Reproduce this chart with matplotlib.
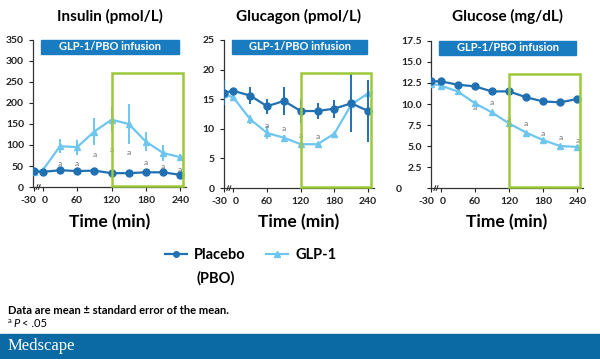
import numpy as np
import matplotlib.pyplot as plt
from matplotlib.patches import Rectangle
from matplotlib.lines import Line2D
from matplotlib.transforms import ScaledTranslation

plt.rcParams['font.family'] = ['Lato', 'DejaVu Sans']

# sampling times (min); -30 sits before a broken axis
times = np.array([-30, 0, 30, 60, 90, 120, 150, 180, 210, 240])
tick_times = [-30, 0, 60, 120, 180, 240]

# insulin (pmol/L)
ins_pbo = [37, 36, 40, 38, 39, 33, 33, 35, 35, 29]
ins_pbo_err = [3, 2, 3, 3, 3, 2, 2, 2, 3, 2]
ins_glp = [36, 40, 97, 95, 132, 160, 150, 108, 81, 71]
ins_glp_err = [3, 4, 17, 18, 32, 30, 48, 22, 19, 7]
ins_sig_t = [30, 60, 90, 120, 150, 180, 210, 240]
ins_sig_y = [57, 57, 77, 90, 81, 59, 49, 41]

# glucagon (pmol/L)
gcg_pbo = [16.1, 16.4, 15.6, 13.8, 14.7, 13.0, 13.0, 13.4, 14.3, 13.0]
gcg_pbo_err = [2.1, 0.3, 1.5, 1.3, 2.4, 2.0, 1.4, 1.5, 4.9, 5.3]
gcg_glp = [15.8, 15.3, 11.6, 9.3, 8.5, 7.4, 7.4, 9.2, 14.1, 16.0]
gcg_glp_err = [0.4, 0.3, 0.8, 1.1, 0.4, 0.3, 0.3, 0.3, 0.3, 0.3]
gcg_sig_t = [60, 90, 120, 150]
gcg_sig_y = [10.6, 10.0, 8.9, 8.7]

# glucose (mg/dL)
glu_pbo = [12.7, 12.7, 12.3, 12.1, 11.5, 11.5, 10.8, 10.3, 10.2, 10.6]
glu_pbo_err = [0.2, 0.2, 0.2, 0.2, 0.2, 0.2, 0.2, 0.2, 0.2, 0.2]
glu_glp = [12.4, 12.2, 11.5, 10.1, 9.0, 7.7, 6.6, 5.7, 5.0, 4.9]
glu_glp_err = [0.2, 0.2, 0.2, 0.3, 0.2, 0.2, 0.2, 0.2, 0.2, 0.2]
glu_sig_t = [60, 90, 120, 150, 180, 210, 240]
glu_sig_y = [9.6, 10.2, 8.3, 7.7, 6.5, 6.0, 5.7]

C_PBO = '#2170b2'
C_GLP = '#6ec6ef'
C_BOX = '#9cc93a'
C_BANNER = '#1a7cc0'


def tpos(t):
    # compress the -30 point next to 0 (broken axis)
    t = np.asarray(t, dtype=float)
    return np.where(t < 0, -16, t)


def shift(label, dx_px):
    label.set_transform(label.get_transform() +
                        ScaledTranslation(dx_px / 100, 0, fig.dpi_scale_trans))


def panel(rect, title, pbo, pbo_err, glp, glp_err, sig_t, sig_y, ymax, yticks, ylabels):
    ax = fig.add_axes(rect)
    x = tpos(times)
    ax.errorbar(x, glp, yerr=glp_err, color=C_GLP, marker='^', ms=5, lw=1.6,
                elinewidth=1.4, capsize=0, zorder=3)
    ax.errorbar(x, pbo, yerr=pbo_err, color=C_PBO, marker='o', ms=5, lw=1.6,
                elinewidth=1.4, capsize=0, zorder=4)
    for t, y in zip(sig_t, sig_y):
        ax.text(t, y, 'a', color='#6a6a6a', fontsize=6, ha='center', va='center')
    ax.set_xlim(-17, 250)
    ax.set_ylim(0, ymax)
    ax.set_xticks(tpos(tick_times))
    ax.set_xticklabels([str(t) for t in tick_times])
    ax.set_yticks(yticks)
    ax.set_yticklabels(ylabels)
    for s in ['top', 'right']:
        ax.spines[s].set_visible(False)
    for s in ['left', 'bottom']:
        ax.spines[s].set_linewidth(0.9)
        ax.spines[s].set_color('#333333')
    ax.tick_params(labelsize=7.5, length=3, width=0.8, colors='#222222')
    for lab in ax.get_xticklabels() + ax.get_yticklabels():
        lab.set_fontweight('bold')
    shift(ax.get_xticklabels()[0], -5)
    shift(ax.get_xticklabels()[1], 2)
    ax.patch.set_alpha(0)
    # infusion banner
    trans = ax.get_xaxis_transform()
    ax.add_patch(Rectangle((-3, 0.905), 241, 0.095, transform=trans,
                           color=C_BANNER, clip_on=False, zorder=2))
    ax.text(118, 0.952, 'GLP-1/PBO infusion', transform=trans, color='white',
            fontsize=8, fontweight='bold', ha='center', va='center', zorder=5)
    # highlighted window
    ax.add_patch(Rectangle((120, 0.01), 125, 0.765, transform=trans, fill=False,
                           edgecolor=C_BOX, lw=1.8, clip_on=False, zorder=5))
    # axis break marks
    for xb in (-10, -6):
        ax.add_line(Line2D([xb - 1.5, xb + 1.5], [-0.015, 0.015], transform=trans,
                           color='#333333', lw=0.8, clip_on=False))
    cx = rect[0] + rect[2] / 2
    fig.text(cx, 0.953, title, ha='center', va='center', fontsize=11, fontweight='bold')
    fig.text(cx, 0.382, 'Time (min)', ha='center', va='center', fontsize=12.5,
             fontweight='bold')
    return ax


fig = plt.figure(figsize=(6, 3.59), dpi=100)

panel([0.055, 0.479, 0.255, 0.41], 'Insulin (pmol/L)', ins_pbo, ins_pbo_err,
      ins_glp, ins_glp_err, ins_sig_t, ins_sig_y, 350,
      range(0, 351, 50), [str(v) for v in range(0, 351, 50)])
panel([0.373, 0.476, 0.25, 0.413], 'Glucagon (pmol/L)', gcg_pbo, gcg_pbo_err,
      gcg_glp, gcg_glp_err, gcg_sig_t, gcg_sig_y, 25,
      range(0, 26, 5), [str(v) for v in range(0, 26, 5)])
ax3 = panel([0.718, 0.476, 0.254, 0.41], 'Glucose (mg/dL)', glu_pbo, glu_pbo_err,
            glu_glp, glu_glp_err, glu_sig_t, glu_sig_y, 17.5,
            np.arange(0, 17.6, 2.5), ['0'] + ['%.1f' % v for v in np.arange(2.5, 17.6, 2.5)])
shift(ax3.get_yticklabels()[0], -20)

# legend
h_pbo = Line2D([], [], color=C_PBO, marker='o', ms=4, lw=1.6)
h_glp = Line2D([], [], color=C_GLP, marker='^', ms=4, lw=1.6)
fig.legend([h_pbo, h_glp], ['Placebo', 'GLP-1'], loc='center', ncol=2,
           bbox_to_anchor=(0.418, 0.29), frameon=False, handlelength=1.5,
           handletextpad=0.5, columnspacing=1.4, prop={'size': 10.5, 'weight': 'bold'})
fig.text(0.327, 0.226, '(PBO)', fontsize=10.5, fontweight='bold', va='center')

# footnotes
fig.text(0.013, 0.136, 'Data are mean \u00b1 standard error of the mean.', fontsize=8,
         fontweight='bold', va='center')
fig.text(0.013, 0.108, 'a', fontsize=5.5, va='center')
fig.text(0.022, 0.099, 'P', fontsize=8, style='italic', va='center')
fig.text(0.036, 0.099, '< .05', fontsize=8, va='center')

# Medscape bar
fig.add_artist(Rectangle((0, 0), 1, 0.07, transform=fig.transFigure, color='#0b69a3'))
fig.text(0.013, 0.035, 'Medscape', color='white', fontsize=12,
         family=['Liberation Serif', 'DejaVu Serif'], va='center')

fig.savefig('out.png', dpi=100)
